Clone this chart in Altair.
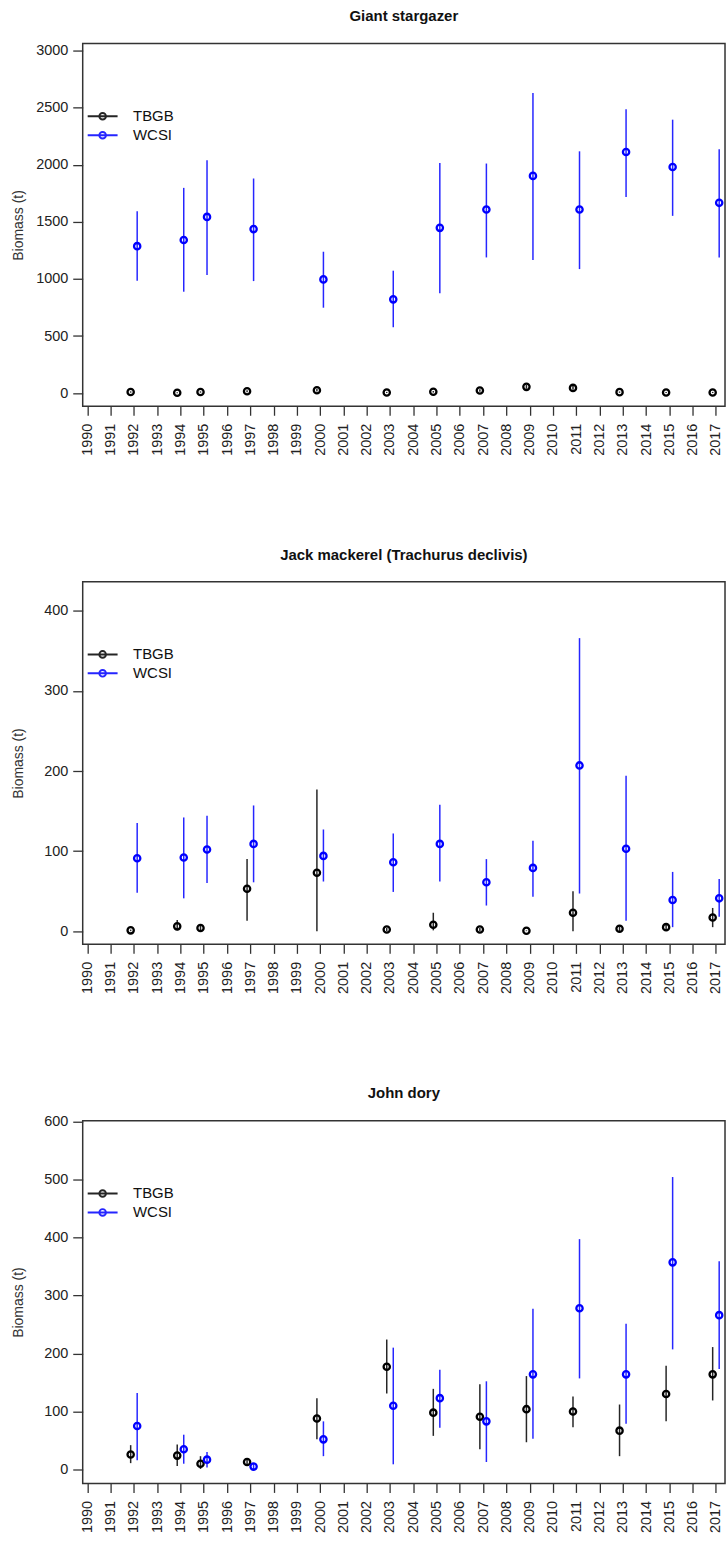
import altair as alt
import pandas as pd

years = [1992, 1994, 1995, 1997, 2000, 2003, 2005, 2007, 2009, 2011, 2013, 2015, 2017]
series_names = ["TBGB", "WCSI"]
series_colors = ["#000000", "#0000FF"]
year_ticks = list(range(1990, 2018))

# Giant stargazer
gs_tbgb = [10, 3, 10, 17, 26, 6, 12, 23, 55, 46, 9, 6, 6]
gs_tbgb_lo = [4, 0, 4, 8, 14, 1, 5, 12, 38, 30, 3, 1, 1]
gs_tbgb_hi = [16, 7, 16, 26, 38, 11, 19, 34, 72, 62, 15, 11, 11]
gs_wcsi = [1287, 1340, 1543, 1436, 996, 821, 1447, 1608, 1902, 1608, 2111, 1980, 1666]
gs_wcsi_lo = [984, 888, 1034, 981, 748, 577, 874, 1188, 1165, 1086, 1718, 1552, 1188]
gs_wcsi_hi = [1593, 1797, 2039, 1879, 1238, 1072, 2015, 2010, 2627, 2117, 2485, 2394, 2135]

# Jack mackerel
jm_tbgb = [1, 6, 4, 53, 73, 2, 8, 2, 0.5, 23, 3, 5, 17]
jm_tbgb_lo = [0, 1, 1, 13, 0, 0, 1, 0, 0, 0, 0, 1, 5]
jm_tbgb_hi = [2, 14, 8, 90, 177, 4, 23, 4, 1, 50, 6, 10, 29]
jm_wcsi = [91, 92, 102, 109, 94, 86, 109, 61, 79, 207, 103, 39, 41]
jm_wcsi_lo = [48, 41, 60, 61, 62, 49, 62, 32, 43, 47, 13, 5, 18]
jm_wcsi_hi = [135, 142, 144, 157, 127, 122, 158, 90, 113, 366, 194, 74, 65]

# John dory
jd_tbgb = [26, 24, 10, 13, 88, 177, 98, 91, 104, 100, 67, 130, 164]
jd_tbgb_lo = [11, 6, 1, 6, 52, 131, 58, 35, 47, 73, 23, 83, 119]
jd_tbgb_hi = [42, 43, 23, 19, 123, 224, 139, 147, 161, 126, 112, 179, 211]
jd_wcsi = [75, 35, 17, 5, 52, 110, 123, 83, 164, 278, 164, 357, 266]
jd_wcsi_lo = [16, 10, 3.5, 0, 23, 9, 72, 13, 53, 157, 79, 207, 173]
jd_wcsi_hi = [132, 60, 30, 10, 83, 210, 172, 152, 277, 397, 251, 504, 359]

FONT = "Liberation Sans"
PLOT_W = 644.6
PLOT_H = 364
LEGEND_PATH = "M-2.5,0L2.5,0M0.55,0A0.55,0.55,0,1,1,-0.55,0A0.55,0.55,0,1,1,0.55,0Z"


def make_df(t, tlo, thi, w, wlo, whi):
    rows = []
    for i, y in enumerate(years):
        rows.append({"year": y, "series": "TBGB", "value": t[i], "lo": tlo[i], "hi": thi[i]})
        rows.append({"year": y, "series": "WCSI", "value": w[i], "lo": wlo[i], "hi": whi[i]})
    return pd.DataFrame(rows)


def panel(title, df, ydomain, yticks, title_offset):
    base = alt.Chart(df).transform_calculate(
        xpos="datum.year + (datum.series === 'TBGB' ? -0.14 : 0.14)"
    )
    x = alt.X(
        "xpos:Q",
        scale=alt.Scale(domain=[1989.8, 2017.39], nice=False, zero=False),
        axis=alt.Axis(
            values=year_ticks, format="d", labelAngle=270, title=None, grid=False,
            tickSize=9, labelPadding=8, labelFontSize=14.5, labelFlush=False,
            labelOverlap=False,
        ),
    )
    yscale = alt.Scale(domain=ydomain, nice=False, zero=False)
    yaxis = alt.Axis(
        values=yticks, format="d", grid=False, title="Biomass (t)", tickSize=10,
        labelPadding=5, labelFontSize=14.5, titleFontSize=14, titleFontWeight="normal",
        titleColor="#333333", titleAngle=270, titleX=-64.7, titleY=PLOT_H / 2,
        titleAlign="center", titleBaseline="middle",
    )
    color = alt.Color(
        "series:N",
        scale=alt.Scale(domain=series_names, range=series_colors),
        legend=alt.Legend(
            title=None, orient="none", legendX=12.5, legendY=65.5, padding=0,
            symbolType=LEGEND_PATH, symbolSize=144, symbolStrokeWidth=2,
            symbolFillColor="transparent", labelFontSize=15, labelFont=FONT,
            labelColor="#111111", labelOffset=23, rowPadding=3,
        ),
    )
    rules = base.mark_rule(strokeWidth=1.5, opacity=0.85).encode(
        x=x,
        y=alt.Y("lo:Q", scale=yscale, axis=yaxis),
        y2="hi:Q",
        color=color,
    )
    points = base.mark_point(filled=False, size=40, strokeWidth=2.3, opacity=1).encode(
        x=x,
        y=alt.Y("value:Q", scale=yscale, axis=yaxis),
        color=color,
    )
    return alt.layer(rules, points).properties(
        width=PLOT_W,
        height=PLOT_H,
        title=alt.TitleParams(
            text=title, fontSize=15, fontWeight="bold", font=FONT, anchor="middle",
            offset=title_offset, baseline="alphabetic", color="#111111",
        ),
    )


p1 = panel("Giant stargazer",
           make_df(gs_tbgb, gs_tbgb_lo, gs_tbgb_hi, gs_wcsi, gs_wcsi_lo, gs_wcsi_hi),
           [-115, 3060], [0, 500, 1000, 1500, 2000, 2500, 3000], 7)
p2 = panel("Jack mackerel (Trachurus declivis)",
           make_df(jm_tbgb, jm_tbgb_lo, jm_tbgb_hi, jm_wcsi, jm_wcsi_lo, jm_wcsi_hi),
           [-16.5, 436.5], [0, 100, 200, 300, 400], 7)
p3 = panel("John dory",
           make_df(jd_tbgb, jd_tbgb_lo, jd_tbgb_hi, jd_wcsi, jd_wcsi_lo, jd_wcsi_hi),
           [-24, 601], [0, 100, 200, 300, 400, 500, 600], 0)

chart = (
    alt.vconcat(p1, p2, p3, spacing=90)
    .resolve_scale(color="independent", y="independent", x="independent")
    .resolve_legend(color="independent")
    .properties(padding={"left": 10, "top": 5, "right": 0, "bottom": 0}, background="white")
    .configure_view(stroke="#333333", strokeWidth=1.5)
    .configure_axis(
        domain=False, tickColor="#333333", tickWidth=1.3, labelColor="#222222",
        labelFont=FONT, titleFont=FONT,
    )
)

chart.save("out.html", embed_options={"renderer": "svg", "actions": False})
